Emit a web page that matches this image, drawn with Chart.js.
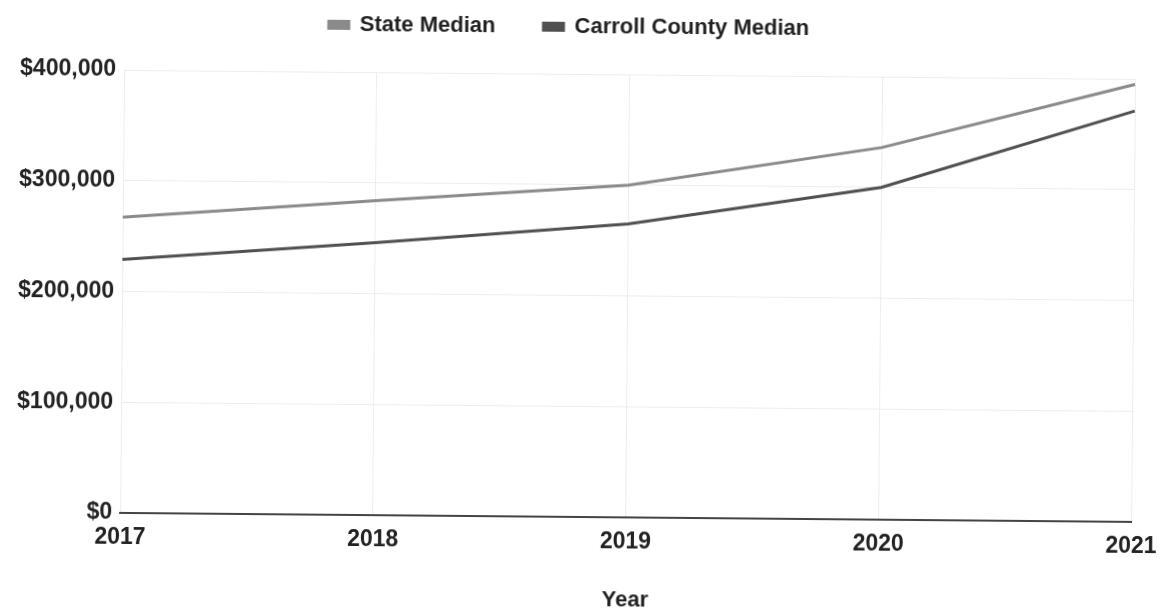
<!DOCTYPE html>
<html>
<head>
<meta charset="utf-8">
<script src="https://cdn.jsdelivr.net/npm/chart.js@4.4.0/dist/chart.umd.min.js"></script>
<style>
  html, body { margin: 0; padding: 0; background: #fff; overflow: hidden; }
  #wrap { width: 1163px; height: 613px; transform: rotate(0.51deg); transform-origin: 581px 306px; }
  canvas { display: block; }
</style>
</head>
<body>
<div id="wrap"><canvas id="c" width="1163" height="613"></canvas></div>
<script>
const years = ['2017', '2018', '2019', '2020', '2021'];
const stateMedian = [267000, 284000, 300000, 336000, 395000];
const carrollMedian = [229000, 246000, 265000, 300000, 371000];
const yTicks = [0, 100000, 200000, 300000, 400000];
const xTitle = 'Year';

const FONT = "'Liberation Sans', Arial, sans-serif";

const legendHeight = {
  id: 'legendHeight',
  beforeInit(chart) {
    const fit = chart.legend.fit;
    chart.legend.fit = function () { fit.call(this); this.height = 106; };
  }
};

new Chart(document.getElementById('c'), {
  type: 'line',
  data: {
    labels: years,
    datasets: [
      { label: 'State Median', data: stateMedian, borderColor: '#8a8a8a', backgroundColor: '#8a8a8a',
        borderWidth: 3, pointRadius: 0, tension: 0 },
      { label: 'Carroll County Median', data: carrollMedian, borderColor: '#505050', backgroundColor: '#505050',
        borderWidth: 3, pointRadius: 0, tension: 0 }
    ]
  },
  plugins: [legendHeight],
  options: {
    responsive: false,
    animation: false,
    layout: { padding: { top: -32, right: 30, left: 0, bottom: 0 } },
    plugins: {
      legend: {
        position: 'top',
        labels: { boxWidth: 20, boxHeight: 7, padding: 48, color: '#222', font: { family: FONT, size: 22, weight: 'bold' } }
      },
      tooltip: { enabled: false }
    },
    scales: {
      x: {
        offset: false,
        grid: { color: '#ededed', lineWidth: 1, drawTicks: false },
        border: { display: true, color: '#444', width: 2 },
        ticks: { color: '#222', font: { family: FONT, size: 23, weight: 'bold' }, padding: 11, maxRotation: 0 },
        title: { display: true, text: xTitle, color: '#222', font: { family: FONT, size: 22, weight: 'bold' }, padding: { top: 30, bottom: 0 } },
        afterFit: s => { s.height = 96; s.paddingLeft = 0; s.paddingRight = 0; }
      },
      y: {
        min: 0, max: 400000,
        afterBuildTicks: s => { s.ticks = yTicks.map(v => ({ value: v })); },
        grid: { color: '#ededed', lineWidth: 1, drawTicks: false },
        border: { display: false },
        ticks: { color: '#222', font: { family: FONT, size: 23, weight: 'bold' }, padding: 8,
          callback: v => '$' + Number(v).toLocaleString('en-US') },
        afterFit: s => { s.width = 122; }
      }
    }
  }
});
</script>
</body>
</html>
